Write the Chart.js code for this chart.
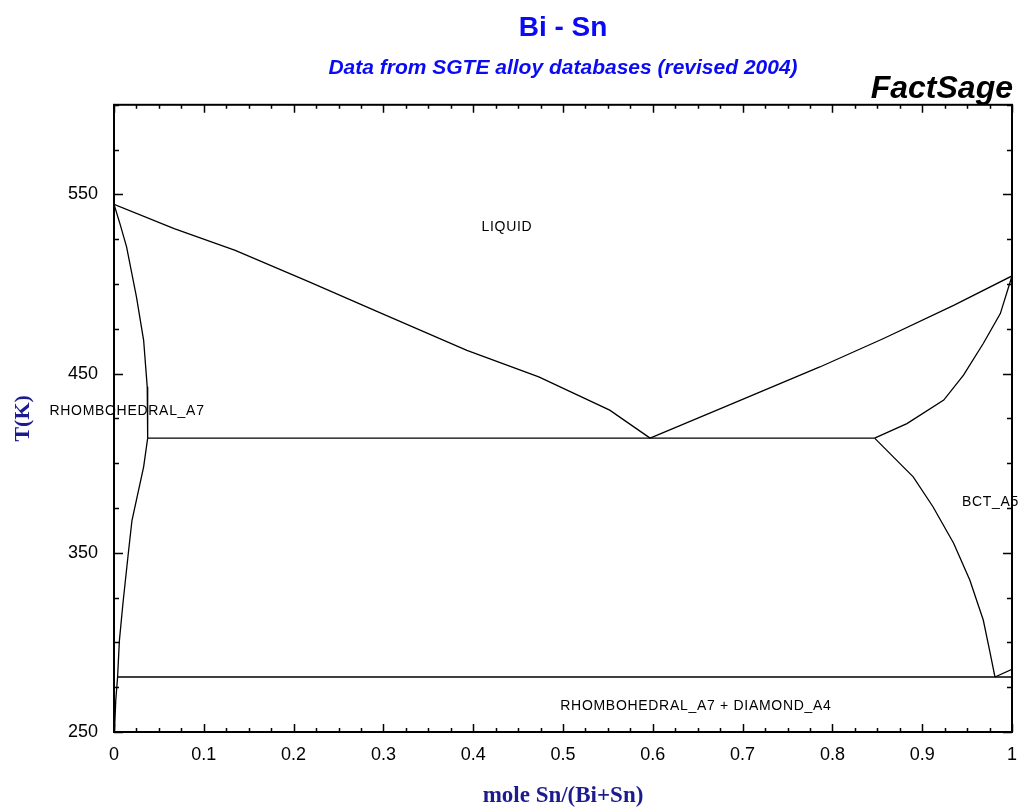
<!DOCTYPE html>
<html>
<head>
<meta charset="utf-8">
<script src="https://cdn.jsdelivr.net/npm/chart.js@4/dist/chart.umd.min.js"></script>
<style>
  html, body { margin: 0; padding: 0; background: #ffffff; }
  #wrap { width: 1018px; height: 810px; }
</style>
</head>
<body>
<div id="wrap"><canvas id="c" width="1018" height="810"></canvas></div>
<script>
// ---- Tick values and labels ----
const xTickValues = [0, 0.1, 0.2, 0.3, 0.4, 0.5, 0.6, 0.7, 0.8, 0.9, 1];
const xTickLabels = ['0', '0.1', '0.2', '0.3', '0.4', '0.5', '0.6', '0.7', '0.8', '0.9', '1'];
const yTickValues = [250, 350, 450, 550];
const yTickLabels = ['250', '350', '450', '550'];

// ---- Phase boundaries (x = mole Sn/(Bi+Sn), T in K) ----
const liquidusBiX = [0, 0.067, 0.135, 0.218, 0.294, 0.393, 0.473, 0.552, 0.597];
const liquidusBiT = [544.5, 530.9, 518.8, 501.1, 484.4, 463.0, 448.2, 429.6, 414.0];

const liquidusSnX = [0.597, 0.69, 0.786, 0.857, 0.935, 1.0];
const liquidusSnT = [414.0, 433.5, 453.7, 469.6, 488.1, 504.5];

const solidusBiX = [0, 0.007, 0.014, 0.025, 0.033, 0.037, 0.0375];
const solidusBiT = [544.5, 533.0, 520.7, 492.8, 468.6, 442.6, 414.0];

const solvusBiX = [0.0375, 0.033, 0.020, 0.016, 0.010, 0.006, 0.004, 0.002, 0.0005];
const solvusBiT = [414.0, 398.0, 368.0, 350.0, 322.0, 301.0, 280.7, 268.0, 250.0];

const solidusSnX = [0.847, 0.883, 0.924, 0.946, 0.968, 0.987, 1.0];
const solidusSnT = [414.0, 422.1, 435.2, 449.1, 466.8, 483.5, 504.5];

const solvusSnX = [0.847, 0.875, 0.890, 0.912, 0.935, 0.953, 0.968, 0.975, 0.981];
const solvusSnT = [414.0, 399.9, 392.4, 375.7, 355.3, 334.8, 312.5, 295.7, 280.7];

const tinTransitionX = [0.981, 1.0];
const tinTransitionT = [280.7, 285.0];

const pureSnX = [1.0, 1.0];
const pureSnT = [250.0, 285.0];

const eutecticX = [0.0375, 0.847];
const eutecticT = [414.0, 414.0];

const eutectoidX = [0.004, 1.0];
const eutectoidT = [280.7, 280.7];

// ---- Phase region labels (anchored in data units) ----
const phaseNames = ['LIQUID', 'RHOMBOHEDRAL_A7', 'BCT_A5', 'RHOMBOHEDRAL_A7 + DIAMOND_A4'];
const phaseLabelX = [0.4376, 0.0145, 0.976, 0.648];
const phaseLabelT = [531.9, 429.0, 378.0, 264.5];

function pts(xs, ts) { return xs.map((x, i) => ({ x: x, y: ts[i] })); }
function line(xs, ts) {
  return {
    data: pts(xs, ts),
    showLine: true,
    borderColor: '#000000',
    borderWidth: 1.3,
    pointRadius: 0,
    pointHoverRadius: 0,
    fill: false,
    tension: 0
  };
}

const datasets = [
  line(liquidusBiX, liquidusBiT),
  line(liquidusSnX, liquidusSnT),
  line(solidusBiX, solidusBiT),
  line(solvusBiX, solvusBiT),
  line(solidusSnX, solidusSnT),
  line(solvusSnX, solvusSnT),
  line(tinTransitionX, tinTransitionT),
  line(pureSnX, pureSnT),
  line(eutecticX, eutecticT),
  line(eutectoidX, eutectoidT)
];

const CHART_LEFT = 114, CHART_RIGHT_PAD = 6, CHART_BOTTOM_H = 78;

const framePlugin = {
  id: 'frameTicks',
  afterDraw(chart) {
    const ctx = chart.ctx;
    const a = chart.chartArea;
    const xs = chart.scales.x, ys = chart.scales.y;
    ctx.save();
    ctx.strokeStyle = '#000000';
    ctx.lineWidth = 1.5;
    ctx.beginPath();
    for (let i = 0; i <= 40; i++) {
      const v = i * 0.025;
      const px = Math.round(xs.getPixelForValue(v)) + 0.5;
      const len = (i % 4 === 0) ? 8 : 4;
      ctx.moveTo(px, a.bottom); ctx.lineTo(px, a.bottom - len);
      ctx.moveTo(px, a.top); ctx.lineTo(px, a.top + len);
    }
    for (let t = 250; t <= 600; t += 25) {
      const py = Math.round(ys.getPixelForValue(t)) + 0.5;
      const len = ((t - 250) % 100 === 0) ? 9 : 5;
      ctx.moveTo(a.left, py); ctx.lineTo(a.left + len, py);
      ctx.moveTo(a.right, py); ctx.lineTo(a.right - len, py);
    }
    ctx.stroke();
    ctx.lineWidth = 2;
    ctx.strokeRect(a.left, a.top, a.right - a.left, a.bottom - a.top);

    ctx.fillStyle = '#000000';
    ctx.font = '14px "Liberation Sans", Arial, sans-serif';
    if ('letterSpacing' in ctx) ctx.letterSpacing = '0.7px';
    ctx.textAlign = 'center';
    ctx.textBaseline = 'middle';
    phaseNames.forEach((name, i) => {
      ctx.fillText(name, xs.getPixelForValue(phaseLabelX[i]), ys.getPixelForValue(phaseLabelT[i]));
    });
    if ('letterSpacing' in ctx) ctx.letterSpacing = '0px';

    ctx.font = 'italic bold 32px "Liberation Sans", Arial, sans-serif';
    ctx.textAlign = 'right';
    ctx.textBaseline = 'alphabetic';
    ctx.fillStyle = '#000000';
    ctx.fillText('FactSage', 1013, 98);
    ctx.restore();
  }
};

new Chart(document.getElementById('c'), {
  type: 'scatter',
  data: { datasets: datasets },
  options: {
    responsive: false,
    animation: false,
    devicePixelRatio: 1,
    layout: { padding: { left: 0, right: CHART_RIGHT_PAD, top: 0, bottom: 0 } },
    plugins: {
      legend: { display: false },
      tooltip: { enabled: false },
      title: {
        display: true,
        fullSize: false,
        text: 'Bi - Sn',
        color: '#0a0af5',
        font: { family: '"Liberation Sans", Arial, sans-serif', size: 28, weight: 'bold', lineHeight: 1.2 },
        padding: { top: 11, bottom: 0 }
      },
      subtitle: {
        display: true,
        fullSize: false,
        text: 'Data from SGTE alloy databases (revised 2004)',
        color: '#0a0af5',
        font: { family: '"Liberation Sans", Arial, sans-serif', size: 21, weight: 'bold', style: 'italic', lineHeight: 1.2 },
        padding: { top: 11, bottom: 24 }
      }
    },
    scales: {
      x: {
        type: 'linear',
        min: 0,
        max: 1,
        afterBuildTicks(scale) { scale.ticks = xTickValues.map(v => ({ value: v })); },
        afterFit(scale) { scale.height = CHART_BOTTOM_H; scale.paddingLeft = 0; scale.paddingRight = 0; },
        grid: { display: false, drawTicks: false },
        border: { display: false },
        ticks: {
          color: '#000000',
          padding: 12,
          maxRotation: 0,
          autoSkip: false,
          font: { family: '"Liberation Sans", Arial, sans-serif', size: 18 },
          callback: (v) => { const i = xTickValues.findIndex(t => Math.abs(t - v) < 1e-9); return i >= 0 ? xTickLabels[i] : ''; }
        },
        title: {
          display: true,
          text: 'mole Sn/(Bi+Sn)',
          color: '#1c1c8e',
          font: { family: '"Liberation Serif", "Times New Roman", serif', size: 23, weight: 'bold', lineHeight: 1 },
          padding: { top: 0, bottom: 2 }
        }
      },
      y: {
        type: 'linear',
        min: 250,
        max: 600,
        afterBuildTicks(scale) { scale.ticks = yTickValues.map(v => ({ value: v })); },
        afterFit(scale) { scale.width = CHART_LEFT; scale.paddingTop = 0; scale.paddingBottom = 0; },
        grid: { display: false, drawTicks: false },
        border: { display: false },
        ticks: {
          color: '#000000',
          padding: 16,
          autoSkip: false,
          font: { family: '"Liberation Sans", Arial, sans-serif', size: 18 },
          callback: (v) => { const i = yTickValues.indexOf(v); return i >= 0 ? yTickLabels[i] : ''; }
        },
        title: {
          display: true,
          text: 'T(K)',
          color: '#1c1c8e',
          font: { family: '"Liberation Serif", "Times New Roman", serif', size: 22, weight: 'bold', lineHeight: 1.2 },
          padding: { top: 10, bottom: 0 }
        }
      }
    }
  },
  plugins: [framePlugin]
});
</script>
</body>
</html>
